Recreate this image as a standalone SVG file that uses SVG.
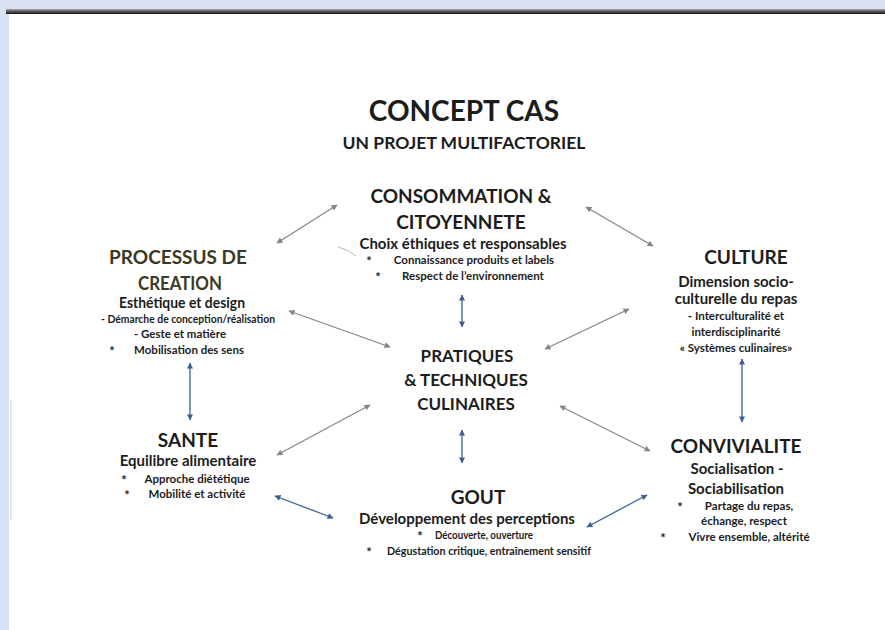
<svg xmlns="http://www.w3.org/2000/svg" width="885" height="630" viewBox="0 0 885 630">
<defs>
<style>
text{font-family:Lato,"Open Sans","Liberation Sans",sans-serif;font-weight:bold;fill:#1c1c1c;text-anchor:middle}
.t{font-size:28px}
.st{font-size:17.5px}
.h{font-size:19px}
.c{font-size:17px}
.s{font-size:15px}
.b{font-size:11.5px}
.k{font-size:13px}
.ol{fill:#3a3924}
.g{stroke:#858585;stroke-width:1.2;fill:none;marker-start:url(#mg);marker-end:url(#mg)}
.bl{stroke:#3f5f93;stroke-width:1.3;fill:none;marker-start:url(#mb);marker-end:url(#mb)}
</style>
<linearGradient id="bar" x1="0" y1="0" x2="0" y2="1">
<stop offset="0" stop-color="#a8a8a8"/>
<stop offset="0.5" stop-color="#555"/>
<stop offset="1" stop-color="#111"/>
</linearGradient>
<marker id="mg" viewBox="0 0 10 10" refX="9" refY="5" markerWidth="7" markerHeight="6" markerUnits="userSpaceOnUse" orient="auto-start-reverse">
<path d="M0,0 L10,5 L0,10 Z" fill="#858585"/>
</marker>
<marker id="mb" viewBox="0 0 10 10" refX="9" refY="5" markerWidth="7" markerHeight="6" markerUnits="userSpaceOnUse" orient="auto-start-reverse">
<path d="M0,0 L10,5 L0,10 Z" fill="#3f5f93"/>
</marker>
</defs>
<rect x="0" y="0" width="885" height="630" fill="#d8e2f2"/>
<rect x="9" y="14" width="876" height="616" fill="#ffffff"/>
<rect x="6" y="9" width="879" height="5" fill="url(#bar)"/>
<path d="M11,400 L11,520" stroke="#c8c8c8" stroke-width="1.5" opacity="0.6"/>

<g id="title">
<text class="t" x="464" y="121">CONCEPT CAS</text>
<text class="st" x="464" y="149">UN PROJET MULTIFACTORIEL</text>
</g>

<g id="consommation">
<text class="h" x="461" y="203">CONSOMMATION &amp;</text>
<text class="h" x="461" y="229">CITOYENNETE</text>
<text class="s" x="463" y="249">Choix éthiques et responsables</text>
<text class="k" x="369" y="266">*</text>
<text class="b" x="474" y="264">Connaissance produits et labels</text>
<text class="k" x="378" y="282">*</text>
<text class="b" x="473" y="280">Respect de l’environnement</text>
</g>

<g id="processus">
<text class="h ol" x="178" y="264">PROCESSUS DE</text>
<text class="h ol" x="180" y="290" textLength="84" lengthAdjust="spacingAndGlyphs">CREATION</text>
<text class="s" x="182" y="308" textLength="126" lengthAdjust="spacingAndGlyphs">Esthétique et design</text>
<text class="b" x="188" y="323" textLength="174" lengthAdjust="spacingAndGlyphs">- Démarche de conception/réalisation</text>
<text class="b" x="180" y="338">- Geste et matière</text>
<text class="k" x="112" y="356">*</text>
<text class="b" x="189" y="354">Mobilisation des sens</text>
</g>

<g id="culture">
<text class="h" x="746" y="264">CULTURE</text>
<text class="s" x="736" y="287">Dimension socio-</text>
<text class="s" x="736" y="304">culturelle du repas</text>
<text class="b" x="736" y="320">- Interculturalité et</text>
<text class="b" x="736" y="336">interdisciplinarité</text>
<text class="b" x="736" y="352">« Systèmes culinaires»</text>
</g>

<g id="pratiques">
<text class="c" x="467" y="362">PRATIQUES</text>
<text class="c" x="466" y="386">&amp; TECHNIQUES</text>
<text class="c" x="466" y="410">CULINAIRES</text>
</g>

<g id="sante">
<text class="h" x="188" y="447">SANTE</text>
<text class="s" x="188" y="466">Equilibre alimentaire</text>
<text class="k" x="124" y="485">*</text>
<text class="b" x="197" y="483">Approche diététique</text>
<text class="k" x="127" y="500">*</text>
<text class="b" x="197" y="498">Mobilité et activité</text>
</g>

<g id="gout">
<text class="h" x="478" y="504">GOUT</text>
<text class="s" x="467" y="524">Développement des perceptions</text>
<text class="k" x="420" y="541">*</text>
<text class="b" x="484" y="539" textLength="98" lengthAdjust="spacingAndGlyphs">Découverte, ouverture</text>
<text class="k" x="369" y="557">*</text>
<text class="b" x="489" y="555" textLength="204" lengthAdjust="spacingAndGlyphs">Dégustation critique, entraînement sensitif</text>
</g>

<g id="convivialite">
<text class="h" x="736" y="453">CONVIVIALITE</text>
<text class="s" x="737" y="474">Socialisation -</text>
<text class="s" x="736" y="494">Sociabilisation</text>
<text class="k" x="680" y="512">*</text>
<text class="b" x="749" y="510">Partage du repas,</text>
<text class="b" x="744" y="525">échange, respect</text>
<text class="k" x="663" y="543">*</text>
<text class="b" x="749" y="541">Vivre ensemble, altérité</text>
</g>

<g id="connectors">
<path class="g" d="M277,243 L337,205"/>
<path class="g" d="M586,207 L653,246"/>
<path class="g" d="M289,311 L390,347"/>
<path class="g" d="M545,349 L629,309"/>
<path class="g" d="M560,406 L650,451"/>
<path class="g" d="M277,455 L370,405"/>
<path class="bl" d="M190,363 L190,420"/>
<path class="bl" d="M742,359 L742,422"/>
<path class="bl" d="M462,295 L462,327"/>
<path class="bl" d="M462,430 L462,463"/>
<path class="bl" d="M275,496 L333,518"/>
<path class="bl" d="M587,527 L647,495"/>
<path d="M338,247 Q348,249 356,256" stroke="#bcbcbc" stroke-width="1" fill="none"/>
</g>
</svg>
